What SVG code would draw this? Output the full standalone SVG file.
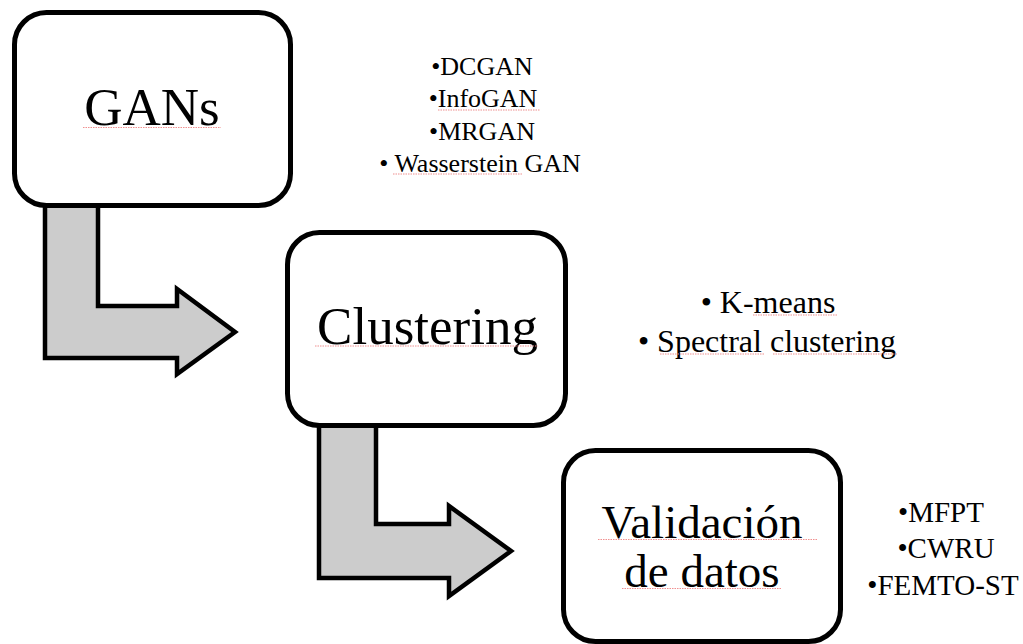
<svg xmlns="http://www.w3.org/2000/svg" width="1023" height="644" viewBox="0 0 1023 644">
  <style>
    .box { fill: #ffffff; stroke: #000000; stroke-width: 5; }
    .arrow { fill: #cccccc; stroke: #000000; stroke-width: 4.5; stroke-linejoin: miter; }
    .sq { stroke: #f09090; stroke-width: 1.2; stroke-dasharray: 1.5 1; fill: none; }
  </style>
  <rect width="1023" height="644" fill="#ffffff"/>

  <g id="connectors">
    <path class="arrow" d="M45,200 L98,200 L98,306 L177,306 L177,289 L235,332 L177,374 L177,358 L45,358 Z"/>
    <path class="arrow" d="M319,420 L376,420 L376,524 L449,524 L449,506 L511,551 L449,596 L449,578 L319,578 Z"/>
  </g>

  <g font-family="Liberation Serif, Tinos, DejaVu Serif, serif" fill="#000000" text-anchor="middle">
    <g id="node-gans">
      <rect class="box" x="14.5" y="12.5" width="276" height="193" rx="32" ry="32"/>
      <text font-size="53" x="152" y="125">GANs</text>
    </g>

    <g id="list-gans" font-size="26">
      <text x="482" y="75">•DCGAN</text>
      <text x="483" y="107">•InfoGAN</text>
      <text x="482" y="140">•MRGAN</text>
      <text x="480" y="172">• Wasserstein GAN</text>
    </g>

    <g id="node-clustering">
      <rect class="box" x="287.5" y="232.5" width="278" height="193" rx="32" ry="32"/>
      <text font-size="53" x="427.5" y="344">Clustering</text>
    </g>

    <g id="list-clustering" font-size="32">
      <text x="768" y="313">• K-means</text>
      <text x="767" y="352">• Spectral clustering</text>
    </g>

    <g id="node-validacion">
      <rect class="box" x="563.5" y="450.5" width="277" height="191" rx="32" ry="32"/>
      <text font-size="47" x="702" y="538">Validación</text>
      <text font-size="47" x="702" y="587">de datos</text>
    </g>

    <g id="list-validacion" font-size="29">
      <text x="941" y="522">•MFPT</text>
      <text x="946" y="558">•CWRU</text>
      <text x="943" y="595">•FEMTO-ST</text>
    </g>
  </g>

  <g id="spellcheck">
    <line class="sq" x1="83" y1="127.5" x2="221" y2="127.5"/>
    <line class="sq" x1="438" y1="110" x2="540" y2="110"/>
    <line class="sq" x1="393" y1="174" x2="523" y2="174"/>
    <line class="sq" x1="315" y1="346" x2="538" y2="346"/>
    <line class="sq" x1="753" y1="315" x2="837" y2="315"/>
    <line class="sq" x1="660" y1="354" x2="765" y2="354"/>
    <line class="sq" x1="773" y1="354" x2="898" y2="354"/>
    <line class="sq" x1="598" y1="539.5" x2="817" y2="539.5"/>
    <line class="sq" x1="622" y1="588.5" x2="782" y2="588.5"/>
  </g>
</svg>
